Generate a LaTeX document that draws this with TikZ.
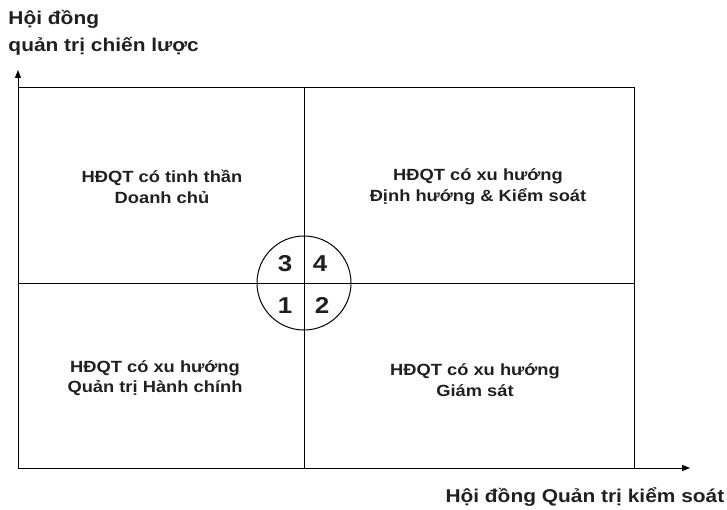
\documentclass[tikz,border=0pt]{standalone}
\usepackage{fontspec}
\setmainfont{Liberation Sans}[FakeStretch=1.13]
\usepackage{xcolor}
\usetikzlibrary{arrows.meta}
\definecolor{inkgray}{RGB}{35,31,32}

\begin{document}
\begin{tikzpicture}[x=1pt, y=-1pt, line width=1pt,
  quadtext/.style={font=\fontsize{16.2}{20.5}\selectfont\bfseries, text=inkgray, align=center, inner sep=0pt},
  axistext/.style={font=\fontsize{18.5}{27}\selectfont\bfseries, text=inkgray, inner sep=0pt},
  numtext/.style={font=\fontsize{23}{23}\selectfont\bfseries, text=inkgray, inner sep=0pt, anchor=base},
  axisarrow/.style={-{Triangle[length=8pt,width=6pt]}}]
\useasboundingbox (0,0) rectangle (727,510);
% corners and axes
\coordinate (O) at (18,468);
\coordinate (ytip) at (18,70);
\coordinate (xtip) at (690,468);
\coordinate (tl) at (18,88);
\coordinate (tr) at (634,88);
\coordinate (br) at (634,468);
\coordinate (mtop) at (304,88);
\coordinate (mbot) at (304,468);
\coordinate (mleft) at (18,283);
\coordinate (mright) at (634,283);
\coordinate (C) at (304,283);
\draw[axisarrow] (O) -- (ytip);
\draw[axisarrow] (O) -- (xtip);
\draw (tl) -- (tr) -- (br);
\draw (mtop) -- (mbot);
\draw (mleft) -- (mright);
\draw (C) circle[radius=47pt];
% quadrant numbers
\node[numtext] (n3) at (285,272) {3};
\node[numtext] (n4) at (320,272) {4};
\node[numtext] (n1) at (285,313) {1};
\node[numtext] (n2) at (322,313) {2};
% quadrant labels
\node[quadtext] (q3) at (162,187) {HĐQT có tinh thần\\Doanh chủ};
\node[quadtext] (q4) at (478,187) {HĐQT có xu hướng\\Định hướng \& Kiểm soát};
\node[quadtext] (q1) at (155,378) {HĐQT có xu hướng\\Quản trị Hành chính};
\node[quadtext] (q2) at (475,380) {HĐQT có xu hướng\\Giám sát};
% axis titles
\node[axistext, align=left, anchor=west] (ylabel) at (8,33) {Hội đồng\\quản trị chiến lược};
\node[axistext, anchor=base west] (xlabel) at (445,502) {Hội đồng Quản trị kiểm soát};
\end{tikzpicture}
\end{document}
